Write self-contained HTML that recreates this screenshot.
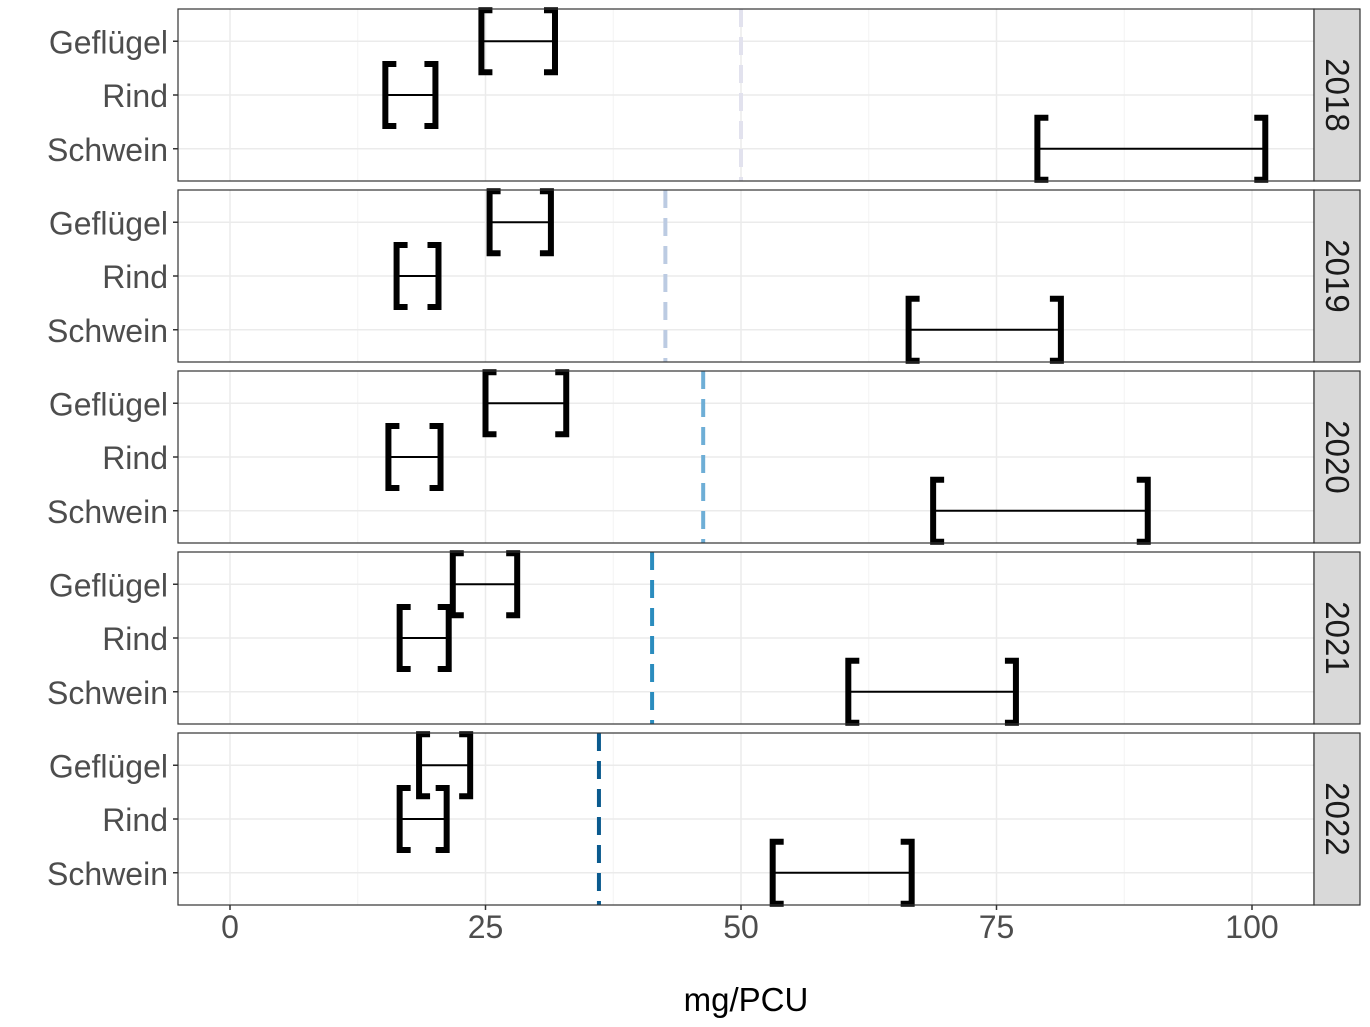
<!DOCTYPE html>
<html><head><meta charset="utf-8"><style>
html,body{margin:0;padding:0;background:#fff;}
svg{display:block;font-family:"Liberation Sans",Arial,sans-serif;}
</style></head><body>
<svg id="chart" width="1370" height="1027"></svg>
<script>
const years = ["2018","2019","2020","2021","2022"];
const categories = ["Geflügel","Rind","Schwein"];
const lowVals = [[24.6,15.2,79.0],[25.4,16.3,66.4],[25.0,15.5,68.8],[21.8,16.6,60.5],[18.5,16.6,53.1]];
const highVals = [[31.8,20.1,101.3],[31.4,20.4,81.3],[32.9,20.6,89.8],[28.1,21.4,76.9],[23.5,21.2,66.7]];
const refVals = [50.0,42.6,46.3,41.3,36.1];
const refColors = ["#e2e2ee","#bccbe2","#6eaed6","#2b8cbe","#0a5a8e"];
const xTicks = [0,25,50,75,100];

const NS="http://www.w3.org/2000/svg";
const svg=document.getElementById('chart');
const PL=178, PR=1314, SW=46;
const panelTops=[9,190,371,552,733], PH=172;
function xs(v){return 230+(v-0)*(1252-230)/100;}
function ys(top,i){const lvl=3-i;return top+(3.6-lvl)*PH/3.2;}
function mk(tag,attrs,parent){const e=document.createElementNS(NS,tag);for(const k in attrs)e.setAttribute(k,attrs[k]);(parent||svg).appendChild(e);return e;}

years.forEach((yr,p)=>{
  const top=panelTops[p];
  const g=mk('g',{});
  
  
  mk('rect',{x:PL,y:top,width:PR-PL,height:PH,fill:'#fff'},g);
  [12.5,37.5,62.5,87.5].forEach(v=>mk('line',{x1:xs(v),x2:xs(v),y1:top,y2:top+PH,stroke:'#f3f3f3','stroke-width':1},g));
  xTicks.forEach(v=>mk('line',{x1:xs(v),x2:xs(v),y1:top,y2:top+PH,stroke:'#ebebeb','stroke-width':1.5},g));
  categories.forEach((c,i)=>{
    const y=ys(top,i);
    mk('line',{x1:PL,x2:PR,y1:y,y2:y,stroke:'#ebebeb','stroke-width':1.5},g);
    const t=mk('text',{x:168,y:y+12,'text-anchor':'end','font-size':32,fill:'#4d4d4d'},g);
    t.textContent=c;
    
    
    mk('line',{x1:PL-5,x2:PL,y1:y,y2:y,stroke:'#333','stroke-width':1.5},g);
  });
  const rl=mk('line',{x1:xs(refVals[p]),x2:xs(refVals[p]),y1:top,y2:top+PH,stroke:refColors[p],'stroke-width':4,'stroke-dasharray':'18,10'},g);
  
  
  categories.forEach((c,i)=>{
    const y=ys(top,i), x1=xs(lowVals[p][i]), x2=xs(highVals[p][i]);
    const ig=mk('g',{},g);
    
    
    mk('line',{x1:x1,x2:x2,y1:y,y2:y,stroke:'#000','stroke-width':2},ig);
    const h=31;
    mk('path',{d:`M${x1+11},${y-h} H${x1} V${y+h} H${x1+11}`,fill:'none',stroke:'#000','stroke-width':6},ig);
    mk('path',{d:`M${x2-11},${y-h} H${x2} V${y+h} H${x2-11}`,fill:'none',stroke:'#000','stroke-width':6},ig);
  });
  mk('rect',{x:PL,y:top,width:PR-PL,height:PH,fill:'none',stroke:'#333','stroke-width':1.2},g);
  const s=mk('rect',{x:PR,y:top,width:SW,height:PH,fill:'#d9d9d9',stroke:'#333','stroke-width':1.2},g);
  
  
  const st=mk('text',{x:0,y:0,'font-size':33,fill:'#1a1a1a','text-anchor':'middle',transform:`translate(${PR+SW/2-11},${top+PH/2}) rotate(90)`},g);
  st.textContent=yr;
  
  
});
const bottom=panelTops[4]+PH;
xTicks.forEach(v=>{
  mk('line',{x1:xs(v),x2:xs(v),y1:bottom,y2:bottom+5,stroke:'#333','stroke-width':1.5});
  const t=mk('text',{x:xs(v),y:bottom+33,'text-anchor':'middle','font-size':32,fill:'#4d4d4d'});
  t.textContent=v;
  
  
});
const xt=mk('text',{x:746,y:1011,'text-anchor':'middle','font-size':33,fill:'#000'});
xt.textContent='mg/PCU';


</script>
</body></html>
